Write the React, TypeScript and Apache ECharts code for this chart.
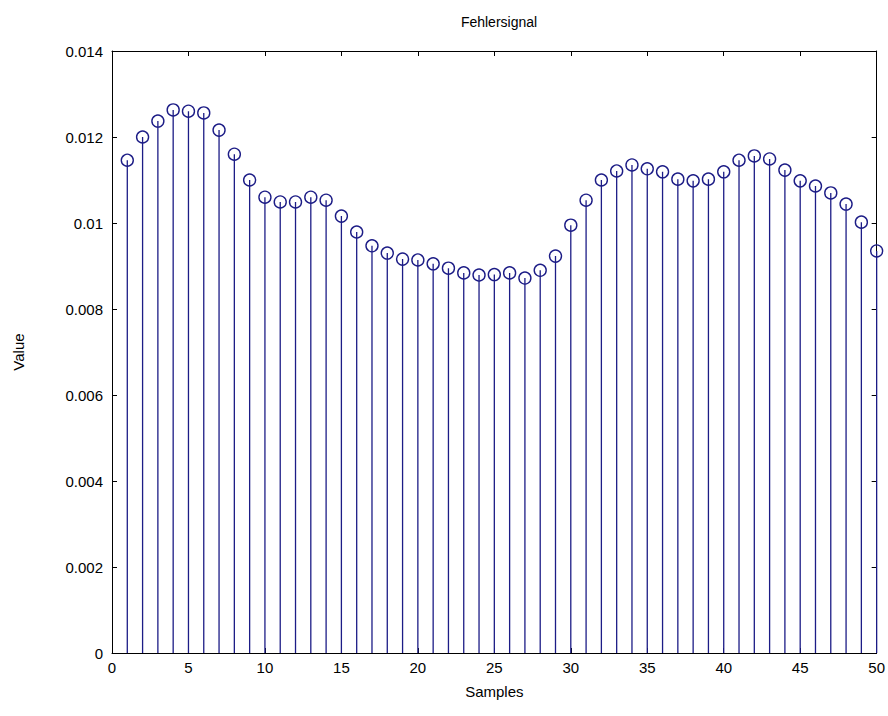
import React, { useEffect, useRef } from "react";
import * as echarts from "echarts";

const samples: number[] = Array.from({ length: 50 }, (_, i) => i + 1);
const errorValues: number[] = [
  0.01146, 0.0120, 0.01237, 0.01263, 0.0126, 0.01256, 0.01216, 0.0116, 0.0110, 0.0106,
  0.01049, 0.01049, 0.0106, 0.01053, 0.01016, 0.00979, 0.00947, 0.0093, 0.00916, 0.00914,
  0.00905, 0.00895, 0.00884, 0.00879, 0.0088, 0.00884, 0.00872, 0.0089, 0.00923, 0.00995,
  0.01053, 0.0110, 0.01121, 0.01135, 0.01126, 0.01119, 0.01102, 0.01098, 0.01102, 0.01119,
  0.01146, 0.01156, 0.01149, 0.01123, 0.01098, 0.01086, 0.0107, 0.01044, 0.01002, 0.00935,
];
const xTicks = [0, 50, 5];
const yTicks = [0, 0.014, 0.002];

const STEM = "#1c1c86";
const FONT = "'Liberation Sans', Arial, sans-serif";

export default function App() {
  const ref = useRef<HTMLDivElement>(null);
  useEffect(() => {
    if (!ref.current) return;
    const chart = echarts.init(ref.current, null, { renderer: "svg" });
    const pts = samples.map((s, i) => [s, errorValues[i]]);
    const axisLine = { show: true, onZero: false, lineStyle: { color: "#000", width: 1 } };
    const tick = { show: true, inside: true, length: 5, lineStyle: { color: "#000" } };
    chart.setOption({
      animation: false,
      backgroundColor: "#fff",
      title: {
        text: "Fehlersignal",
        left: 494,
        top: 10,
        textAlign: "center",
        textStyle: { fontFamily: FONT, fontSize: 14, fontWeight: "normal", color: "#000" },
      },
      grid: { left: 112, right: 11, top: 51, bottom: 63, containLabel: false },
      xAxis: [
        {
          type: "value",
          min: xTicks[0],
          max: xTicks[1],
          interval: xTicks[2],
          position: "bottom",
          name: "Samples",
          nameLocation: "middle",
          nameGap: 31,
          nameTextStyle: { fontFamily: FONT, fontSize: 15, color: "#000" },
          axisLine,
          axisTick: tick,
          axisLabel: { fontFamily: FONT, fontSize: 15, color: "#000", margin: 7 },
          splitLine: { show: false },
        },
        {
          type: "value",
          min: xTicks[0],
          max: xTicks[1],
          interval: xTicks[2],
          position: "top",
          axisLine,
          axisTick: tick,
          axisLabel: { show: false },
          splitLine: { show: false },
        },
      ],
      yAxis: [
        {
          type: "value",
          min: yTicks[0],
          max: yTicks[1],
          interval: yTicks[2],
          position: "left",
          name: "Value",
          nameLocation: "middle",
          nameGap: 86,
          nameRotate: 90,
          nameTextStyle: { fontFamily: FONT, fontSize: 15, color: "#000" },
          axisLine,
          axisTick: tick,
          axisLabel: { fontFamily: FONT, fontSize: 15, color: "#000", margin: 9 },
          splitLine: { show: false },
        },
        {
          type: "value",
          min: yTicks[0],
          max: yTicks[1],
          interval: yTicks[2],
          position: "right",
          axisLine,
          axisTick: tick,
          axisLabel: { show: false },
          splitLine: { show: false },
        },
      ],
      series: [
        {
          type: "custom",
          xAxisIndex: 0,
          yAxisIndex: 0,
          data: pts,
          clip: false,
          renderItem: (params: any, api: any) => {
            const x = api.value(0);
            const y = api.value(1);
            const p0 = api.coord([x, 0]);
            const p1 = api.coord([x, y]);
            return {
              type: "line",
              shape: { x1: p0[0], y1: p0[1], x2: p1[0], y2: p1[1] },
              style: { stroke: STEM, lineWidth: 1.3 },
            };
          },
          z: 2,
        },
        {
          type: "scatter",
          xAxisIndex: 0,
          yAxisIndex: 0,
          data: pts,
          symbol: "circle",
          symbolSize: 12,
          clip: false,
          itemStyle: { color: "rgba(255,255,255,0)", borderColor: STEM, borderWidth: 1.4, opacity: 1 },
          z: 3,
        },
      ],
    });
    return () => chart.dispose();
  }, []);
  return (
    <div
      ref={ref}
      style={{ position: "fixed", left: 0, top: 0, width: 888, height: 716 }}
    />
  );
}
